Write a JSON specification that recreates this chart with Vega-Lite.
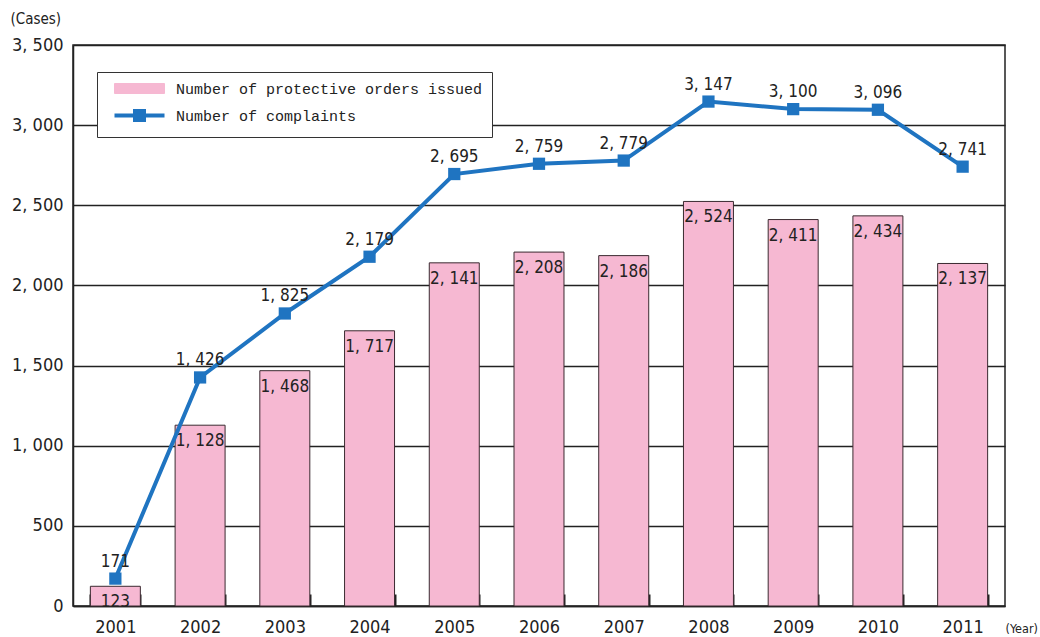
{
  "$schema": "https://vega.github.io/schema/vega-lite/v6.json",
  "width": 932,
  "height": 561,
  "autosize": {"type": "none"},
  "padding": {"left": 73, "top": 45, "right": 35, "bottom": 31},
  "background": "white",
  "config": {
    "view": {"stroke": "#222", "strokeWidth": 1.5},
    "font": "Liberation Sans Narrow, DejaVu Sans Condensed, sans-serif"
  },
  "data": {
    "values": [
      {"year": "2001", "orders": 123, "complaints": 171},
      {"year": "2002", "orders": 1128, "complaints": 1426},
      {"year": "2003", "orders": 1468, "complaints": 1825},
      {"year": "2004", "orders": 1717, "complaints": 2179},
      {"year": "2005", "orders": 2141, "complaints": 2695},
      {"year": "2006", "orders": 2208, "complaints": 2759},
      {"year": "2007", "orders": 2186, "complaints": 2779},
      {"year": "2008", "orders": 2524, "complaints": 3147},
      {"year": "2009", "orders": 2411, "complaints": 3100},
      {"year": "2010", "orders": 2434, "complaints": 3096},
      {"year": "2011", "orders": 2137, "complaints": 2741}
    ]
  },
  "transform": [
    {"calculate": "replace(format(datum.orders, ','), ',', ', ')", "as": "ordersLabel"},
    {"calculate": "replace(format(datum.complaints, ','), ',', ', ')", "as": "complaintsLabel"}
  ],
  "encoding": {
    "x": {
      "field": "year",
      "type": "ordinal",
      "scale": {"paddingInner": 0.41, "paddingOuter": 0.205},
      "axis": {
        "labelAngle": 0,
        "labelFontSize": 18,
        "labelColor": "#222",
        "labelPadding": 24,
        "tickBand": "extent",
        "tickSize": -12,
        "tickColor": "#222",
        "tickWidth": 2,
        "domainColor": "#222",
        "domainWidth": 1.5,
        "title": "(Year)",
        "titleX": 932,
        "titleY": 26,
        "titleAlign": "left",
        "titleBaseline": "alphabetic",
        "titleFontSize": 12.5,
        "titleFontWeight": "normal",
        "titleColor": "#222"
      }
    }
  },
  "layer": [
    {
      "mark": {"type": "bar", "stroke": "#3a2a30", "strokeWidth": 1},
      "encoding": {
        "y": {
          "field": "orders",
          "type": "quantitative",
          "title": "(Cases)",
          "scale": {"domain": [0, 3500]},
          "axis": {
            "values": [0, 500, 1000, 1500, 2000, 2500, 3000, 3500],
            "grid": true,
            "gridColor": "#222",
            "gridWidth": 1.5,
            "ticks": false,
            "domainColor": "#222",
            "domainWidth": 1.5,
            "labelExpr": "replace(format(datum.value, ','), ',', ', ')",
            "labelFontSize": 18,
            "labelColor": "#222",
            "labelPadding": 10,
            "titleAngle": 0,
            "titleX": -63,
            "titleY": -27,
            "titleAlign": "left",
            "titleBaseline": "middle",
            "titleFontSize": 15,
            "titleFontWeight": "normal",
            "titleColor": "#222"
          }
        },
        "color": {
          "datum": "Number of protective orders issued",
          "scale": {
            "domain": ["Number of protective orders issued", "Number of complaints"],
            "range": ["#f6b8d2", "#1f74c1"]
          },
          "legend": {
            "orient": "none",
            "legendX": 24,
            "legendY": 27,
            "title": null,
            "direction": "vertical",
            "padding": 9,
            "strokeColor": "#333",
            "fillColor": "white",
            "labelFont": "Liberation Mono",
            "labelFontSize": 15,
            "labelColor": "#222",
            "symbolSize": 100,
            "symbolOffset": 26,
            "labelOffset": 29,
            "rowPadding": 6,
            "labelLimit": 400,
            "symbolOpacity": 1,
            "symbolType": {"expr": "datum.value === 'Number of complaints' ? 'M-5,0H5M-0.9,-0.9H0.9V0.9H-0.9Z' : 'M-5,-1H5V1H-5Z'"},
            "symbolStrokeWidth": {"expr": "datum.value === 'Number of complaints' ? 4 : 1"},
            "symbolStrokeColor": {"expr": "datum.value === 'Number of complaints' ? '#1f74c1' : '#3a2a30'"}
          }
        }
      }
    },
    {
      "mark": {"type": "text", "baseline": "top", "dy": 8, "fontSize": 17, "color": "#222"},
      "encoding": {
        "y": {"field": "orders", "type": "quantitative", "title": "(Cases)"},
        "text": {"field": "ordersLabel"}
      }
    },
    {
      "mark": {"type": "line", "strokeWidth": 4},
      "encoding": {
        "y": {"field": "complaints", "type": "quantitative", "title": "(Cases)"},
        "color": {"datum": "Number of complaints"}
      }
    },
    {
      "mark": {"type": "point", "shape": "square", "filled": true, "size": 150, "opacity": 1},
      "encoding": {
        "y": {"field": "complaints", "type": "quantitative", "title": "(Cases)"},
        "color": {"datum": "Number of complaints"}
      }
    },
    {
      "mark": {"type": "text", "dy": -17, "fontSize": 17, "color": "#222"},
      "encoding": {
        "y": {"field": "complaints", "type": "quantitative", "title": "(Cases)"},
        "text": {"field": "complaintsLabel"}
      }
    }
  ]
}
